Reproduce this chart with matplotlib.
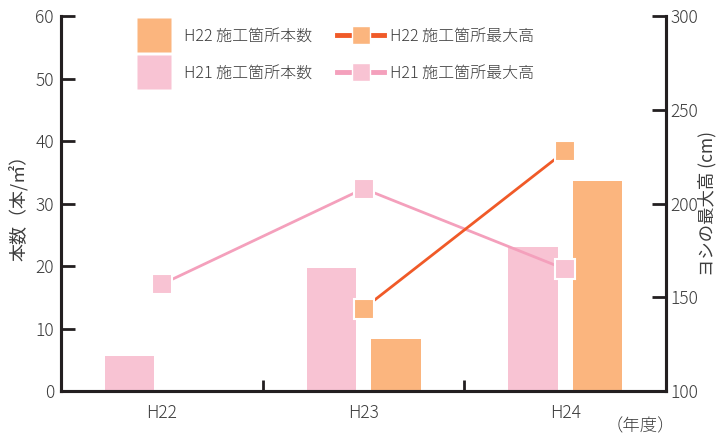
import numpy as np
import matplotlib.pyplot as plt
from matplotlib.lines import Line2D

plt.rcParams['font.family'] = ['Noto Sans CJK JP', 'DejaVu Sans']
plt.rcParams['font.weight'] = 'light'

years = ['H22', 'H23', 'H24']
count_h22 = [0.0, 8.3, 33.6]      # H22 施工箇所本数
count_h21 = [5.6, 19.7, 23.0]     # H21 施工箇所本数
height_h22_x = [1, 2]
height_h22 = [144, 228]           # H22 施工箇所最大高
height_h21 = [157, 208, 165]      # H21 施工箇所最大高

c_orange_bar = '#fbb57e'
c_orange_line = '#f05a28'
c_pink_bar = '#f8c3d3'
c_pink_line = '#f4a0bc'
c_axis = '#231f20'
c_text = '#3c3c3c'

fig = plt.figure(figsize=(7.25, 4.36), dpi=100)
ax = fig.add_axes([0.084, 0.103, 0.835, 0.86])
ax2 = ax.twinx()

x = np.arange(len(years))
w = 0.245
ax.bar(x - 0.16, count_h21, w, color=c_pink_bar, zorder=2)
ax.bar(x + 0.16, count_h22, w, color=c_orange_bar, zorder=2)

ax2.plot(x, height_h21, color=c_pink_line, lw=2, marker='s', ms=14,
         mfc=c_pink_bar, mec='white', mew=1.5, zorder=3)
ax2.plot(height_h22_x, height_h22, color=c_orange_line, lw=2, marker='s', ms=14,
         mfc=c_orange_bar, mec='white', mew=1.5, zorder=3)

ax.set_xlim(-0.5, 2.5)
ax.set_ylim(0, 60)
ax2.set_ylim(100, 300)
ax.set_yticks(range(0, 61, 10))
ax2.set_yticks(range(100, 301, 50))

ax.set_xticks(x)
ax.set_xticklabels(years)
ax.set_xticks([0.5, 1.5], minor=True)
ax.tick_params(axis='x', which='major', length=0, pad=9, labelsize=12.5, labelcolor=c_text)
ax.tick_params(axis='x', which='minor', direction='in', length=8, width=2, color=c_axis)
ax.tick_params(axis='y', direction='in', length=10, width=2, color=c_axis,
               labelsize=12.5, labelcolor=c_text, pad=5)
ax2.tick_params(axis='y', direction='in', length=10, width=2, color=c_axis,
                labelsize=12.5, labelcolor=c_text, pad=3)

for a in (ax, ax2):
    a.spines['top'].set_visible(False)
    for s in ('left', 'right', 'bottom'):
        a.spines[s].set_linewidth(2.2)
        a.spines[s].set_color(c_axis)

ax.set_ylabel('本数（本/㎡）', fontsize=13, color=c_text, labelpad=5)
ax2.set_ylabel('ヨシの最大高 (cm)', fontsize=12.5, color=c_text, labelpad=0)
fig.text(0.883, 0.022, '（年度）', fontsize=12.5, color=c_text, ha='center', va='center')

handles = [
    Line2D([], [], ls='none', marker='s', ms=25, mfc=c_orange_bar, mec='none'),
    Line2D([], [], ls='none', marker='s', ms=25, mfc=c_pink_bar, mec='none'),
    Line2D([], [], color=c_orange_line, lw=3.5, marker='s', ms=13, mfc=c_orange_bar, mec='white'),
    Line2D([], [], color=c_pink_line, lw=3.5, marker='s', ms=13, mfc=c_pink_bar, mec='white'),
]
labels = ['H22 施工箇所本数', 'H21 施工箇所本数', 'H22 施工箇所最大高', 'H21 施工箇所最大高']
ax2.legend(handles, labels, ncol=2, loc='upper left', bbox_to_anchor=(0.092, 1.008),
           frameon=False, fontsize=11.5, labelcolor=c_text, handlelength=2.9,
           labelspacing=1.25, columnspacing=1.6, handletextpad=0.4)

fig.savefig('out.png', dpi=100)
